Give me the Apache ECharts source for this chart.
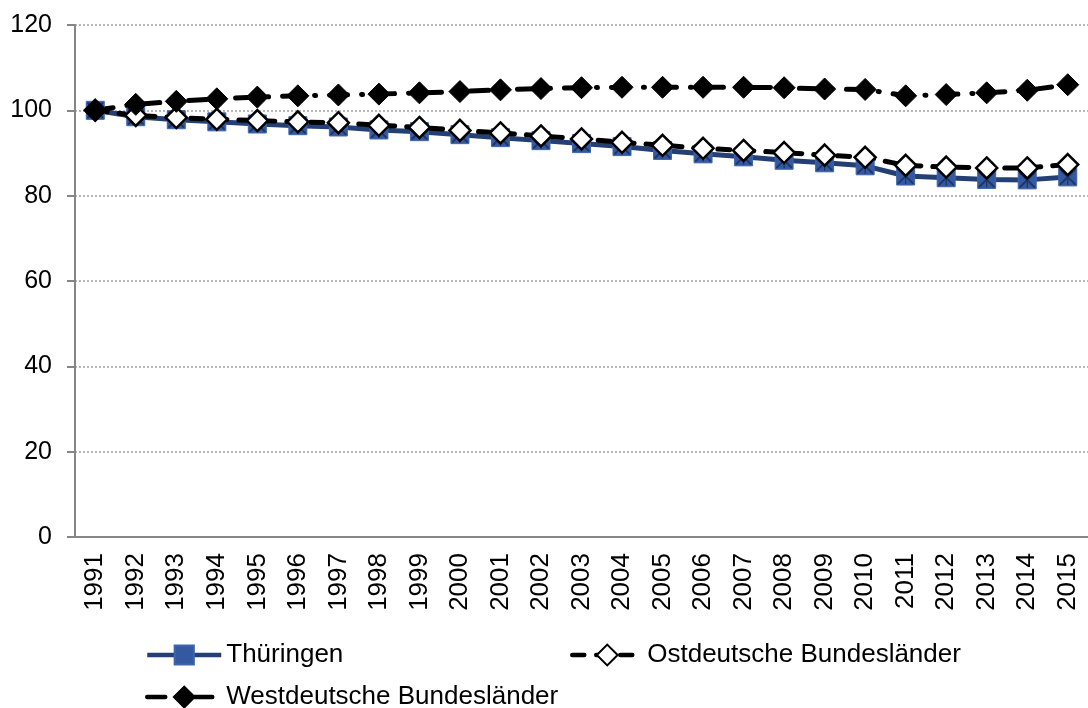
<!DOCTYPE html>
<html>
<head>
<meta charset="utf-8">
<script src="https://cdn.jsdelivr.net/npm/echarts@6/dist/echarts.min.js"></script>
<style>
  html, body { margin: 0; padding: 0; background: #fff; }
  #chart { width: 1088px; height: 708px; }
</style>
</head>
<body>
<div id="chart"></div>
<script>
// Jahre (Kategorien)
const years = ["1991", "1992", "1993", "1994", "1995", "1996", "1997", "1998", "1999", "2000",
  "2001", "2002", "2003", "2004", "2005", "2006", "2007", "2008", "2009", "2010",
  "2011", "2012", "2013", "2014", "2015"];

// Index 1991 = 100
const thueringen = [100, 98.5, 97.8, 97.3, 96.8, 96.4, 96.1, 95.4, 95.0, 94.3,
  93.6, 92.9, 92.2, 91.5, 90.6, 89.8, 89.1, 88.3, 87.7, 87.0,
  84.6, 84.2, 83.8, 83.7, 84.4];
const ostdeutsch = [100, 98.8, 98.3, 97.9, 97.6, 97.3, 97.1, 96.5, 96.0, 95.3,
  94.7, 94.0, 93.3, 92.5, 91.8, 91.1, 90.6, 90.1, 89.5, 89.0,
  87.1, 86.7, 86.5, 86.5, 87.3];
const westdeutsch = [100, 101.4, 102.1, 102.7, 103.1, 103.4, 103.6, 103.8, 104.1, 104.4,
  104.8, 105.1, 105.3, 105.4, 105.4, 105.4, 105.4, 105.3, 105.0, 104.9,
  103.4, 103.7, 104.1, 104.7, 106.0];

const yTicks = { min: 0, max: 120, interval: 20 };

const FONT = "Liberation Sans, Arial, sans-serif";
// Stern-Marker (X + senkrechter Strich) für Thüringen
const starPath = "path://M0,0 L1.5,0 L18,16.5 L18,18 L16.5,18 L0,1.5 Z " +
  "M18,0 L18,1.5 L1.5,18 L0,18 L0,16.5 L16.5,0 Z " +
  "M8.3,0 L9.7,0 L9.7,18 L8.3,18 Z";

const chart = echarts.init(document.getElementById("chart"));

const legendText = { fontSize: 26, color: "#000", fontFamily: FONT };

const option = {
  animation: false,
  backgroundColor: "#fff",
  grid: { left: 75, top: 25, right: -8, bottom: 171, containLabel: false },
  xAxis: {
    type: "category",
    data: years,
    boundaryGap: true,
    axisLine: { lineStyle: { color: "#868686", width: 2 } },
    axisTick: { interval: 0, length: 8, lineStyle: { color: "#868686", width: 2 } },
    axisLabel: {
      interval: 0, rotate: 90, margin: 16,
      color: "#000", fontSize: 26, fontFamily: FONT
    }
  },
  yAxis: {
    type: "value",
    min: yTicks.min, max: yTicks.max, interval: yTicks.interval,
    axisLine: { show: true, lineStyle: { color: "#868686", width: 2 } },
    axisTick: { show: true, length: 8, lineStyle: { color: "#868686", width: 2 } },
    axisLabel: { margin: 23, color: "#000", fontSize: 25, fontFamily: FONT },
    splitLine: { lineStyle: { color: "#a0a0a0", width: 1.5, type: [2, 2] } }
  },
  legend: [
    {
      data: ["Thüringen"], left: 140, top: 637,
      itemWidth: 74, itemHeight: 24, itemGap: 4,
      lineStyle: { width: 4.5 },
      textStyle: legendText
    },
    {
      data: ["Ostdeutsche Bundesländer"], left: 565, top: 637,
      itemWidth: 70, itemHeight: 26,
      lineStyle: { width: 4.5 },
      textStyle: legendText
    },
    {
      data: ["Westdeutsche Bundesländer"], left: 140, top: 679,
      itemWidth: 74, itemHeight: 26,
      lineStyle: { width: 4.5 },
      textStyle: legendText
    }
  ],
  series: [
    {
      name: "Thüringen",
      type: "line",
      data: thueringen,
      symbol: "rect",
      symbolSize: 18,
      lineStyle: { color: "#233f73", width: 5 },
      itemStyle: { color: "#3459a0", borderColor: "#3d64ad", borderWidth: 1 }
    },
    {
      name: "Thüringen Stern",
      type: "line",
      data: thueringen,
      symbol: starPath,
      symbolSize: 16,
      lineStyle: { width: 0, opacity: 0 },
      itemStyle: { color: "#1f3564" },
      silent: true
    },
    {
      name: "Ostdeutsche Bundesländer",
      type: "line",
      data: ostdeutsch,
      symbol: "diamond",
      symbolSize: 21,
      lineStyle: { color: "#000", width: 5, type: [12, 12], cap: "round" },
      itemStyle: { color: "#fff", borderColor: "#000", borderWidth: 2.5 }
    },
    {
      name: "Westdeutsche Bundesländer",
      type: "line",
      data: westdeutsch,
      symbol: "diamond",
      symbolSize: 22,
      lineStyle: { color: "#000", width: 5, type: [18, 14, 1, 14], cap: "round" },
      itemStyle: { color: "#000", borderColor: "#000", borderWidth: 1 }
    }
  ]
};

chart.setOption(option);
</script>
</body>
</html>
